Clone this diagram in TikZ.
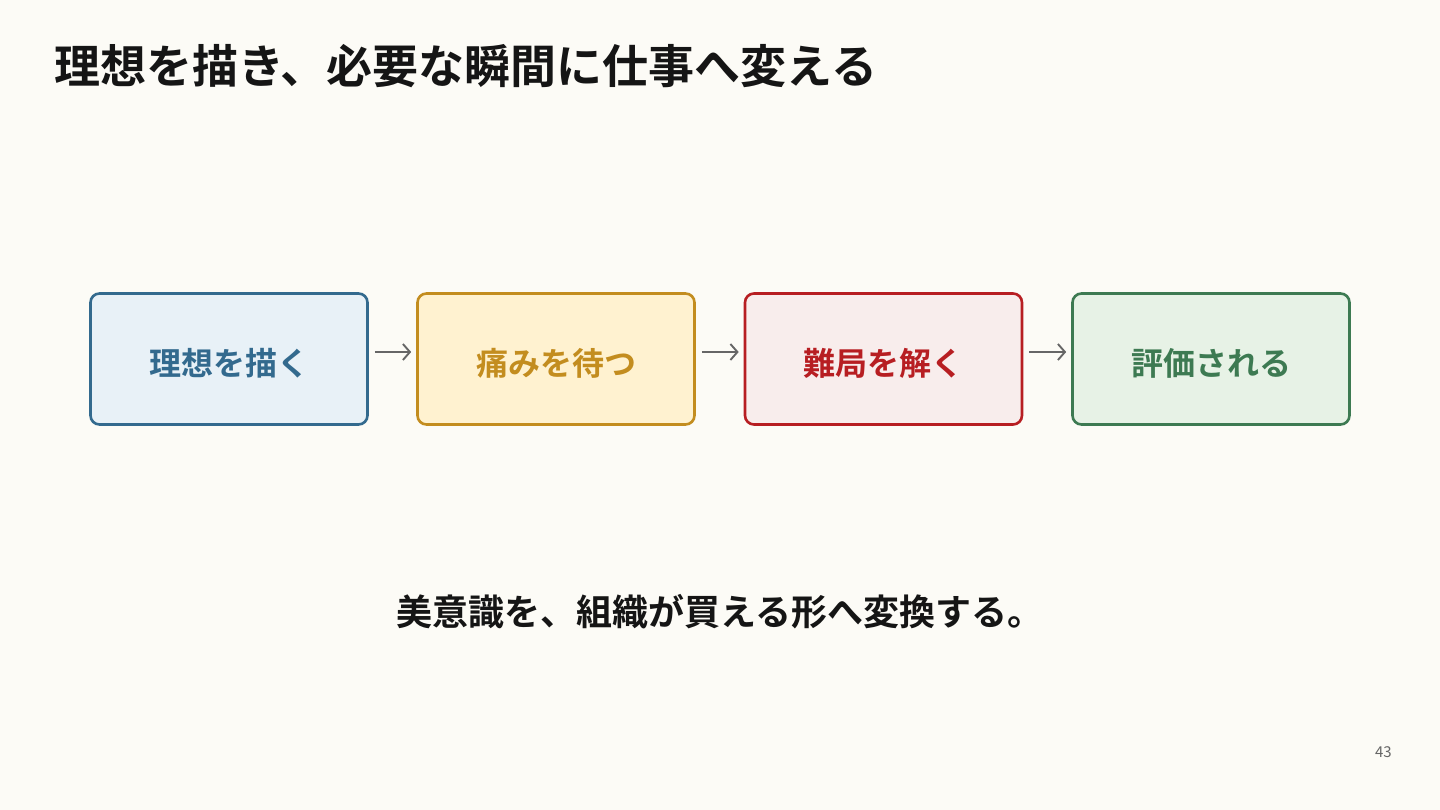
\documentclass[tikz,border=0pt]{standalone}
\usepackage{fontspec}
\setmainfont{Noto Sans CJK JP}
\newfontfamily\jpbold{Noto Sans CJK JP Bold}
\usetikzlibrary{arrows.meta}
\definecolor{bgc}{HTML}{FCFBF6}
\definecolor{blueB}{HTML}{336A8E}
\definecolor{blueF}{HTML}{E8F1F7}
\definecolor{goldB}{HTML}{C38D1F}
\definecolor{goldF}{HTML}{FFF2D0}
\definecolor{redB}{HTML}{B71E22}
\definecolor{redF}{HTML}{F8EDEC}
\definecolor{greenB}{HTML}{3D7A52}
\definecolor{greenF}{HTML}{E7F2E6}
\definecolor{arrowc}{HTML}{666666}
\definecolor{titlec}{HTML}{151515}
\newcommand{\lowered}[1]{\raisebox{-4pt}[\height][\depth]{#1}}
\tikzset{
  stepbox/.style={draw=#1B, fill=#1F, text=#1B, line width=2.6pt, rounded corners=9pt,
    minimum width=277pt, minimum height=131pt, inner sep=0pt,
    font=\jpbold\fontsize{32}{36}\selectfont},
  flowarrow/.style={draw=arrowc, line width=1.9pt, -{Straight Barb[length=7pt,width=16pt,line width=1.9pt]}}
}
\begin{document}
\begin{tikzpicture}[x=1pt,y=-1pt]
\useasboundingbox (0,0) rectangle (1440,810);
\fill[bgc] (0,0) rectangle (1440,810);
\node[anchor=west, text=titlec, inner sep=0pt, font=\jpbold\fontsize{46}{50}\selectfont] (title) at (54,66) {理想を描き、必要な瞬間に仕事へ変える};
\node[stepbox=blue] (s1) at (229,359) {\lowered{理想を描く}};
\node[stepbox=gold] (s2) at (556,359) {\lowered{痛みを待つ}};
\node[stepbox=red] (s3) at (883.5,359) {\lowered{難局を解く}};
\node[stepbox=green] (s4) at (1211,359) {\lowered{評価される}};
\foreach \a/\b in {s1/s2,s2/s3,s3/s4}{
  \draw[flowarrow, shorten <=6pt, shorten >=5pt] ([yshift=7pt]\a.east) -- ([yshift=7pt]\b.west);
}
\node[text=titlec, inner sep=0pt, font=\jpbold\fontsize{36}{40}\selectfont] (sub) at (720,612) {美意識を、組織が買える形へ変換する。};
\node[anchor=east, text=arrowc, inner sep=0pt, font=\fontsize{15}{18}\selectfont] (pg) at (1392,752) {43};
\end{tikzpicture}
\end{document}
